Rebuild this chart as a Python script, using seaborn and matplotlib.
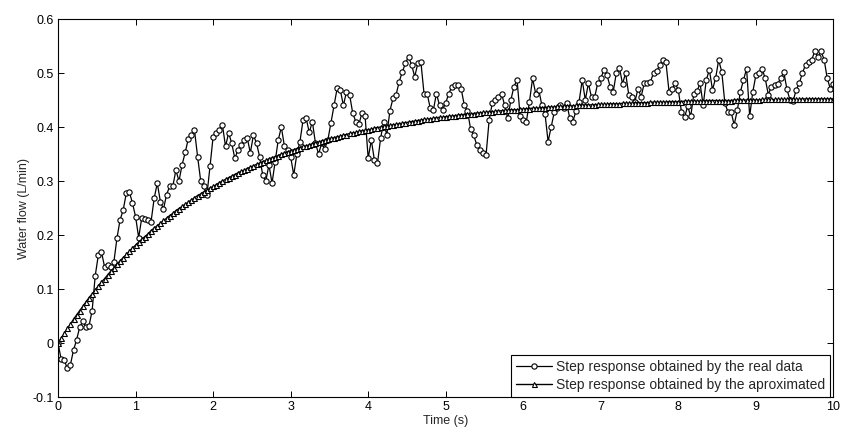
import numpy as np
import matplotlib
matplotlib.use("Agg")
import matplotlib.pyplot as plt
import seaborn as sns

real_data = [
    0.000, -0.030, -0.032, -0.047, -0.040, -0.013, 0.006, 0.030, 0.040, 0.030, 0.032, 0.060, 0.125, 0.163, 0.169, 0.141, 0.145, 0.140, 0.150, 0.194, 0.228, 0.246, 0.277, 0.280, 0.259,
    0.234, 0.195, 0.232, 0.230, 0.228, 0.225, 0.268, 0.296, 0.262, 0.248, 0.275, 0.290, 0.290, 0.320, 0.300, 0.330, 0.353, 0.378, 0.386, 0.394, 0.345, 0.300, 0.290, 0.274, 0.327,
    0.382, 0.389, 0.395, 0.404, 0.364, 0.389, 0.370, 0.342, 0.357, 0.367, 0.376, 0.380, 0.352, 0.385, 0.370, 0.345, 0.311, 0.300, 0.330, 0.296, 0.336, 0.376, 0.400, 0.364, 0.357,
    0.345, 0.311, 0.350, 0.373, 0.413, 0.416, 0.390, 0.410, 0.370, 0.350, 0.370, 0.360, 0.376, 0.408, 0.440, 0.472, 0.469, 0.440, 0.465, 0.460, 0.426, 0.410, 0.405, 0.426, 0.420,
    0.342, 0.376, 0.339, 0.333, 0.379, 0.410, 0.385, 0.430, 0.453, 0.460, 0.484, 0.502, 0.518, 0.530, 0.515, 0.493, 0.518, 0.520, 0.462, 0.462, 0.435, 0.431, 0.462, 0.440, 0.432,
    0.445, 0.462, 0.475, 0.477, 0.478, 0.470, 0.440, 0.430, 0.397, 0.385, 0.367, 0.358, 0.351, 0.348, 0.413, 0.444, 0.450, 0.456, 0.462, 0.440, 0.416, 0.450, 0.475, 0.487, 0.420,
    0.413, 0.410, 0.447, 0.490, 0.462, 0.469, 0.440, 0.425, 0.373, 0.400, 0.428, 0.435, 0.440, 0.436, 0.444, 0.416, 0.410, 0.430, 0.447, 0.487, 0.450, 0.481, 0.455, 0.455, 0.481,
    0.490, 0.506, 0.496, 0.475, 0.465, 0.500, 0.510, 0.480, 0.500, 0.460, 0.456, 0.447, 0.471, 0.456, 0.481, 0.482, 0.484, 0.500, 0.503, 0.515, 0.524, 0.520, 0.465, 0.470, 0.481,
    0.468, 0.428, 0.418, 0.438, 0.420, 0.462, 0.466, 0.481, 0.440, 0.487, 0.506, 0.469, 0.490, 0.524, 0.502, 0.444, 0.428, 0.428, 0.404, 0.431, 0.465, 0.487, 0.508, 0.420, 0.465,
    0.496, 0.500, 0.508, 0.490, 0.460, 0.475, 0.478, 0.480, 0.490, 0.502, 0.470, 0.450, 0.448, 0.469, 0.481, 0.500, 0.515, 0.520, 0.525, 0.540, 0.530, 0.540, 0.525, 0.490, 0.471,
    0.480,
]

approx_data = [
    0.000, 0.009, 0.018, 0.027, 0.035, 0.044, 0.052, 0.060, 0.068, 0.076, 0.084, 0.091, 0.098, 0.106, 0.113, 0.119, 0.126, 0.133, 0.139, 0.146, 0.152, 0.158, 0.164, 0.170, 0.176,
    0.181, 0.187, 0.192, 0.197, 0.202, 0.208, 0.213, 0.217, 0.222, 0.227, 0.231, 0.236, 0.240, 0.245, 0.249, 0.253, 0.257, 0.261, 0.265, 0.269, 0.273, 0.276, 0.280, 0.283, 0.287,
    0.290, 0.293, 0.297, 0.300, 0.303, 0.306, 0.309, 0.312, 0.315, 0.318, 0.320, 0.323, 0.326, 0.328, 0.331, 0.333, 0.336, 0.338, 0.341, 0.343, 0.345, 0.347, 0.350, 0.352, 0.354,
    0.356, 0.358, 0.360, 0.362, 0.364, 0.365, 0.367, 0.369, 0.371, 0.372, 0.374, 0.376, 0.377, 0.379, 0.380, 0.382, 0.383, 0.385, 0.386, 0.388, 0.389, 0.390, 0.392, 0.393, 0.394,
    0.395, 0.396, 0.398, 0.399, 0.400, 0.401, 0.402, 0.403, 0.404, 0.405, 0.406, 0.407, 0.408, 0.409, 0.410, 0.411, 0.412, 0.413, 0.414, 0.414, 0.415, 0.416, 0.417, 0.418, 0.418,
    0.419, 0.420, 0.420, 0.421, 0.422, 0.423, 0.423, 0.424, 0.424, 0.425, 0.426, 0.426, 0.427, 0.427, 0.428, 0.428, 0.429, 0.430, 0.430, 0.431, 0.431, 0.432, 0.432, 0.432, 0.433,
    0.433, 0.434, 0.434, 0.435, 0.435, 0.435, 0.436, 0.436, 0.437, 0.437, 0.437, 0.438, 0.438, 0.438, 0.439, 0.439, 0.439, 0.440, 0.440, 0.440, 0.441, 0.441, 0.441, 0.441, 0.442,
    0.442, 0.442, 0.442, 0.443, 0.443, 0.443, 0.443, 0.444, 0.444, 0.444, 0.444, 0.445, 0.445, 0.445, 0.445, 0.445, 0.446, 0.446, 0.446, 0.446, 0.446, 0.446, 0.447, 0.447, 0.447,
    0.447, 0.447, 0.448, 0.448, 0.448, 0.448, 0.448, 0.448, 0.448, 0.449, 0.449, 0.449, 0.449, 0.449, 0.449, 0.449, 0.449, 0.449, 0.450, 0.450, 0.450, 0.450, 0.450, 0.450, 0.450,
    0.450, 0.450, 0.451, 0.451, 0.451, 0.451, 0.451, 0.451, 0.451, 0.451, 0.451, 0.451, 0.451, 0.451, 0.451, 0.452, 0.452, 0.452, 0.452, 0.452, 0.452, 0.452, 0.452, 0.452, 0.452,
    0.452,
]

x_ticks = [0, 1, 2, 3, 4, 5, 6, 7, 8, 9, 10]
x_tick_labels = ["0", "1", "2", "3", "4", "5", "6", "7", "8", "9", "10"]
y_ticks = [-0.1, 0.0, 0.1, 0.2, 0.3, 0.4, 0.5, 0.6]
y_tick_labels = ["-0.1", "0", "0.1", "0.2", "0.3", "0.4", "0.5", "0.6"]
series_labels = ["Step response obtained by the real data",
                 "Step response obtained by the aproximated"]
x_label = "Time (s)"
y_label = "Water flow (L/min)"

time_real = np.linspace(0, 10, len(real_data))
time_approx = np.linspace(0, 10, len(approx_data))

sns.set_theme(style="white")
plt.rcParams['font.family'] = ['Liberation Sans', 'DejaVu Sans']

fig = plt.figure(figsize=(8.41, 4.32), dpi=100)
ax = fig.add_axes([0.069, 0.081, 0.922, 0.875])

sns.lineplot(x=time_real, y=real_data, ax=ax, estimator=None, sort=False,
             color='black', linewidth=0.9, marker='o', markersize=3.8,
             markerfacecolor='white', markeredgecolor='black', markeredgewidth=0.8,
             label=series_labels[0])
sns.lineplot(x=time_approx, y=approx_data, ax=ax, estimator=None, sort=False,
             color='black', linewidth=1.0, marker='^', markersize=3.6,
             markerfacecolor='white', markeredgecolor='black', markeredgewidth=0.8,
             label=series_labels[1])

ax.set_xlim(0, 10)
ax.set_ylim(-0.1, 0.6)
ax.set_xticks(x_ticks)
ax.set_xticklabels(x_tick_labels)
ax.set_yticks(y_ticks)
ax.set_yticklabels(y_tick_labels)
ax.tick_params(direction='in', top=True, right=True, bottom=True, left=True,
               length=4, width=0.7, labelsize=9, colors='black', pad=3)
for s in ax.spines.values():
    s.set_color('black')
    s.set_linewidth(0.8)

ax.set_xlabel(x_label, fontsize=9, labelpad=1)
ax.set_ylabel(y_label, fontsize=9, labelpad=2)

leg = ax.legend(loc='lower right', bbox_to_anchor=(0.996, 0.0), fontsize=10,
                frameon=True, fancybox=False, framealpha=1, edgecolor='black',
                borderpad=0.35, labelspacing=0.3, handlelength=2.6,
                handletextpad=0.3, borderaxespad=0.0)
leg.get_frame().set_linewidth(0.8)

fig.savefig("out.png", dpi=100, facecolor='white')
